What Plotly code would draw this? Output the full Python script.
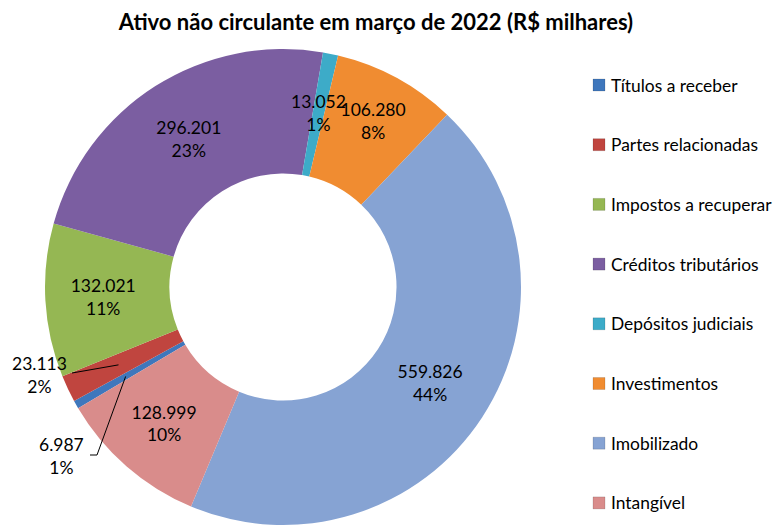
import math
import plotly.graph_objects as go

# ---- data ----
labels = ["Títulos a receber", "Partes relacionadas", "Impostos a recuperar",
          "Créditos tributários", "Depósitos judiciais", "Investimentos",
          "Imobilizado", "Intangível"]
values = [6987, 23113, 132021, 296201, 13052, 106280, 559826, 128999]
pct_labels = ["1%", "2%", "11%", "23%", "1%", "8%", "44%", "10%"]
colors = ["#3F77BC", "#C0453F", "#95B753", "#7B5EA1", "#3DABC8", "#F08C31",
          "#86A3D3", "#D98C8B"]
title = "Ativo não circulante em março de 2022 (R$ milhares)"

# ---- layout constants (screen pixels) ----
W, H = 784, 528
OFF = 8            # page body margin offset
cx, cy, R = 283, 287, 238
HOLE = 0.477
ROT = 239.4
FONT = "Lato"
FS = 17.4
LFS = 17.5


def px(x):
    return (x - OFF) / W


def py(y):
    return 1 - (y - OFF) / H


def fmt(v):
    return f"{v:,}".replace(",", ".")


small = {"Títulos a receber", "Partes relacionadas", "Depósitos judiciais"}
textpos = ["none" if l in small else "inside" for l in labels]

fig = go.Figure()
fig.add_trace(go.Pie(
    labels=labels, values=values, customdata=pct_labels,
    sort=False, direction="clockwise", rotation=ROT, hole=HOLE,
    marker=dict(colors=colors, line=dict(width=0)),
    texttemplate="%{value:,.0f}<br>%{customdata}",
    textposition=textpos, insidetextorientation="horizontal",
    textfont=dict(family=FONT, size=LFS, color="#000000"),
    domain=dict(x=[px(cx - R), px(cx + R)], y=[py(cy + R), py(cy - R)]),
    showlegend=False, hoverinfo="label+value+percent",
))

# ---- geometry of slices for external labels ----
total = sum(values)
mid = {}
acc = 0.0
for l, v in zip(labels, values):
    a0 = ROT + acc / total * 360
    acc += v
    a1 = ROT + acc / total * 360
    mid[l] = (a0 + a1) / 2


def pt(angle_deg, r):
    a = math.radians(angle_deg)
    return cx + r * math.sin(a), cy - r * math.cos(a)


annotations = []
shapes = []
vals = dict(zip(labels, values))
pcts = dict(zip(labels, pct_labels))


def label_ann(name, x, y):
    return dict(x=px(x), y=py(y), xref="paper", yref="paper",
                xanchor="center", yanchor="middle",
                text=fmt(vals[name]) + "<br>" + pcts[name], showarrow=False,
                font=dict(family=FONT, size=LFS, color="#000"))


# Depósitos judiciais: label on the slice
x, y = pt(mid["Depósitos judiciais"], 178)
annotations.append(label_ann("Depósitos judiciais", x, y))

# Partes relacionadas: label left with leader line
ax_, ay_ = pt(mid["Partes relacionadas"], 182)
annotations.append(label_ann("Partes relacionadas", 39, 375))
shapes.append(dict(type="line", xref="paper", yref="paper",
                   x0=px(72), y0=py(373), x1=px(ax_), y1=py(ay_),
                   line=dict(color="#000", width=1)))

# Títulos a receber: label bottom-left with elbow leader line
tx, ty = pt(mid["Títulos a receber"], 181)
annotations.append(label_ann("Títulos a receber", 61, 456))
shapes.append(dict(type="path", xref="paper", yref="paper",
                   path=f"M {px(90)},{py(455)} L {px(97)},{py(455)} L {px(tx)},{py(ty)}",
                   line=dict(color="#000", width=1)))

# ---- manual legend ----
for i, (l, c) in enumerate(zip(labels, colors)):
    yc = 85 + i * 59.7
    shapes.append(dict(type="rect", xref="paper", yref="paper",
                       x0=px(593), x1=px(605), y0=py(yc + 6), y1=py(yc - 6),
                       fillcolor=c, line=dict(color="rgba(0,0,0,0.25)", width=0.5)))
    annotations.append(dict(x=px(609), y=py(yc), xref="paper", yref="paper",
                            xanchor="left", yanchor="middle", text=l, showarrow=False,
                            font=dict(family=FONT, size=FS, color="#000")))

fig.update_layout(
    width=W, height=H,
    margin=dict(l=0, r=0, t=0, b=0),
    paper_bgcolor="white", plot_bgcolor="white",
    separators=",.",
    title=dict(text="<b>" + title + "</b>", x=px(376), xanchor="center",
               y=py(22), yanchor="middle",
               font=dict(family=FONT, size=22, color="#000")),
    annotations=annotations, shapes=shapes,
)

fig.write_html("out.html")
